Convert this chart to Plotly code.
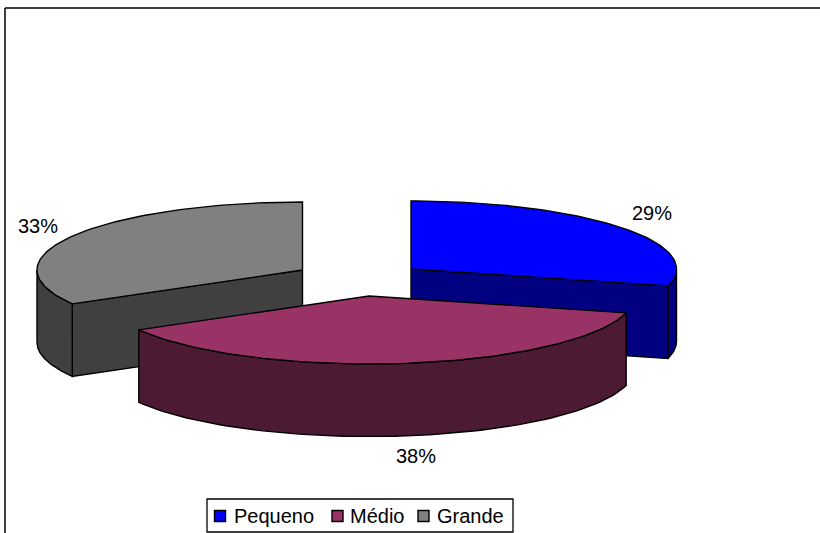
import numpy as np
import plotly.graph_objects as go

categories = ["Pequeno", "Médio", "Grande"]
values = [29, 37.7, 33.3]
top_colors = ["#0000FF", "#993366", "#808080"]
side_colors = ["#000080", "#4D1A33", "#404040"]

W, H = 820, 533
RX, RY, DEPTH = 265.5, 68, 72.5
LINE = dict(color="black", width=1.4)
# slice apex of each exploded slice on the canvas
apex = [(411, 269), (369, 296), (302.5, 270)]
label_pos = [(652, 213), (416, 456), (38, 226)]
swatch_x = [220, 337.5, 423.5]
legend_text_x = [233, 349, 436]
LEGEND_Y = 516


def edge(center, a0, a1, dz=0, n=90):
    t = np.radians(np.linspace(a0, a1, n))
    return center[0] + RX * np.sin(t), center[1] - RY * np.cos(t) + dz


def poly(xs, ys, fill):
    return go.Scatter(x=list(xs) + [xs[0]], y=list(ys) + [ys[0]], mode="lines", fill="toself",
                      fillcolor=fill, line=LINE, showlegend=False, hoverinfo="skip")


bounds = np.cumsum([0] + values) / sum(values) * 360
traces = []
for i in [2, 0, 1]:
    c, a0, a1 = apex[i], bounds[i], bounds[i + 1]
    # radial walls visible from the front
    if i in (0, 2):
        wall = a1 if i == 0 else a0
        ex, ey = edge(c, wall, wall, n=1)
        traces.append(poly([c[0], ex[0], ex[0], c[0]], [c[1], ey[0], ey[0] + DEPTH, c[1] + DEPTH], side_colors[i]))
    # outer rim: the part of the arc on the front half
    r0, r1 = max(a0, 90), min(a1, 270)
    if r1 > r0:
        tx, ty = edge(c, r0, r1)
        bx, by = edge(c, r1, r0, DEPTH)
        traces.append(poly(np.r_[tx, bx], np.r_[ty, by], side_colors[i]))
    # top face
    tx, ty = edge(c, a0, a1)
    traces.append(poly(np.r_[c[0], tx], np.r_[c[1], ty], top_colors[i]))

# legend keys
for name, col, sx in zip(categories, top_colors, swatch_x):
    traces.append(go.Scatter(x=[sx], y=[LEGEND_Y], mode="markers", name=name, showlegend=False,
                             hoverinfo="name",
                             marker=dict(symbol="square", size=11, color=col,
                                         line=dict(color="black", width=1.4))))

fig = go.Figure(traces)
for v, (px, py) in zip(values, label_pos):
    fig.add_annotation(x=px, y=py, text=f"{round(v)}%", showarrow=False,
                       font=dict(size=20, color="black"))
for name, tx in zip(categories, legend_text_x):
    fig.add_annotation(x=tx, y=LEGEND_Y, text=name, showarrow=False, xanchor="left",
                       xshift=-1, font=dict(size=20, color="black"))

fig.add_shape(type="line", x0=5, x1=820, y0=8, y1=8, line=dict(color="black", width=1.5))
fig.add_shape(type="line", x0=5, x1=5, y0=8, y1=533, line=dict(color="black", width=1.5))
fig.add_shape(type="rect", x0=207, x1=513, y0=499, y1=532, layer="below",
              fillcolor="white", line=dict(color="black", width=1.3))

fig.update_layout(
    width=W, height=H, autosize=False, margin=dict(l=0, r=0, t=0, b=0, autoexpand=False),
    paper_bgcolor="white", plot_bgcolor="white", showlegend=False,
    font=dict(family="Liberation Sans, Arial, sans-serif", size=20, color="black"),
    xaxis=dict(range=[0, W], visible=False, fixedrange=True),
    yaxis=dict(range=[H, 0], visible=False, fixedrange=True),
)
fig.write_html("out.html", config={"displayModeBar": False},
               post_script="document.documentElement.style.overflow='hidden';document.body.style.margin='0';window.dispatchEvent(new Event('resize'));")
